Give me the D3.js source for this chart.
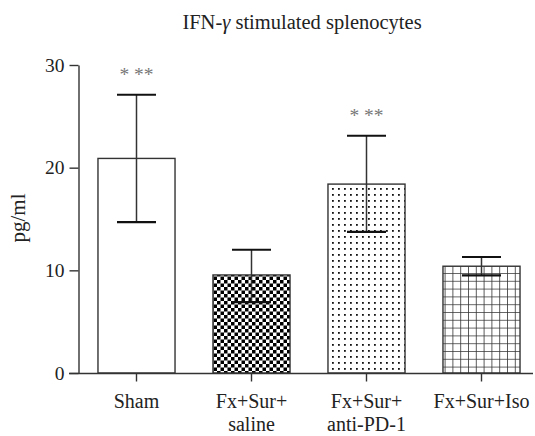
<!DOCTYPE html>
<html><head><meta charset="utf-8">
<script src="https://cdn.jsdelivr.net/npm/d3@7/dist/d3.min.js"></script>
<style>body{margin:0;background:#fff}svg{display:block}</style>
</head><body>
<svg id="c" width="535" height="436"></svg>
<script>
const categories = ["Sham", "Fx+Sur+\nsaline", "Fx+Sur+\nanti-PD-1", "Fx+Sur+Iso"];
const means = [20.9, 9.55, 18.4, 10.4];
const upper = [27.1, 12.0, 23.1, 11.3];
const lower = [14.7, 6.9, 13.75, 9.5];
const patterns = ["none", "checker", "dots", "grid"];
const significance = ["* **", "", "* **", ""];
const yTicks = [0, 10, 20, 30];

const FONT = "Liberation Serif";
const svg = d3.select("#c");
const defs = svg.append("defs");
let p = defs.append("pattern").attr("id","checker").attr("patternUnits","userSpaceOnUse").attr("width",7).attr("height",7);
p.append("rect").attr("width",7).attr("height",7).attr("fill","#fff");
p.append("rect").attr("width",3.5).attr("height",3.5).attr("fill","#000");
p.append("rect").attr("x",3.5).attr("y",3.5).attr("width",3.5).attr("height",3.5).attr("fill","#000");
p = defs.append("pattern").attr("id","dots").attr("patternUnits","userSpaceOnUse").attr("width",6).attr("height",6);
p.append("rect").attr("width",6).attr("height",6).attr("fill","#fff");
p.append("rect").attr("x",2).attr("y",2).attr("width",1.8).attr("height",1.8).attr("fill","#111");
p = defs.append("pattern").attr("id","grid").attr("patternUnits","userSpaceOnUse").attr("width",7.8).attr("height",7.8);
p.append("rect").attr("width",7.8).attr("height",7.8).attr("fill","#fff");
p.append("path").attr("d","M0,0V7.8M0,0H7.8").attr("stroke","#333").attr("stroke-width",1.6);

const x = d3.scaleBand().domain(categories).range([79, 539]).paddingInner(0.33).paddingOuter(0.165);
const y = d3.scaleLinear().domain([0, 30]).range([373, 65]);

svg.append("text").attr("x", 302).attr("y", 29).attr("text-anchor","middle")
  .attr("font-family",FONT).attr("font-size",20.5).attr("fill","#222")
  .html('IFN-<tspan font-style="italic">γ</tspan> stimulated splenocytes');

svg.append("text").attr("transform","translate(25,218) rotate(-90)").attr("text-anchor","middle")
  .attr("font-family",FONT).attr("font-size",21).attr("fill","#222").text("pg/ml");

const idx = categories.map((d,i)=>i);
svg.selectAll("rect.bar").data(idx).enter().append("rect").attr("class","bar")
  .attr("x", i=>x(categories[i])).attr("width", x.bandwidth())
  .attr("y", i=>y(means[i])).attr("height", i=>y(0)-y(means[i]))
  .attr("fill", i=> patterns[i]==="none" ? "#fff" : `url(#${patterns[i]})`)
  .attr("stroke","#333").attr("stroke-width",1.4);

const cap = 39;
const eg = svg.append("g");
idx.forEach(i=>{
  const cx = x(categories[i]) + x.bandwidth()/2;
  eg.append("line").attr("x1",cx).attr("x2",cx).attr("y1",y(upper[i])).attr("y2",y(lower[i])).attr("stroke","#333").attr("stroke-width",1.5);
  eg.append("line").attr("x1",cx-cap/2).attr("x2",cx+cap/2).attr("y1",y(upper[i])).attr("y2",y(upper[i])).attr("stroke","#111").attr("stroke-width",2);
  eg.append("line").attr("x1",cx-cap/2).attr("x2",cx+cap/2).attr("y1",y(lower[i])).attr("y2",y(lower[i])).attr("stroke","#111").attr("stroke-width",2.2);
  if (significance[i]) {
    eg.append("text").attr("x",cx).attr("y",y(upper[i])-14).attr("text-anchor","middle")
      .attr("font-family",FONT).attr("font-size",19.5).attr("fill","#777").text(significance[i]);
  }
});

const ya = svg.append("g").attr("transform","translate(78.5,0)")
  .call(d3.axisLeft(y).tickValues(yTicks).tickSize(9).tickSizeOuter(0).tickPadding(5));
ya.attr("font-family",FONT).attr("font-size",19.5);
ya.select(".domain").attr("stroke","#333").attr("stroke-width",1.4);
ya.selectAll(".tick line").attr("stroke","#333").attr("stroke-width",1.4);
ya.selectAll(".tick text").attr("fill","#222");

const xa = svg.append("g").attr("transform","translate(0,373.5)")
  .call(d3.axisBottom(x).tickSize(8).tickSizeOuter(0).tickFormat(""));
xa.attr("font-family",FONT).attr("font-size",20);
xa.select(".domain").attr("d","M69,0H533").attr("stroke","#333").attr("stroke-width",1.4);
xa.selectAll(".tick line").attr("stroke","#333").attr("stroke-width",1.4);
xa.selectAll(".tick").each(function(d){
  const lines = d.split("\n");
  const t = d3.select(this).append("text").attr("text-anchor","middle").attr("fill","#222");
  lines.forEach((l,k)=>t.append("tspan").attr("x",0).attr("y",34 + k*23).text(l));
});
</script>
</body></html>
